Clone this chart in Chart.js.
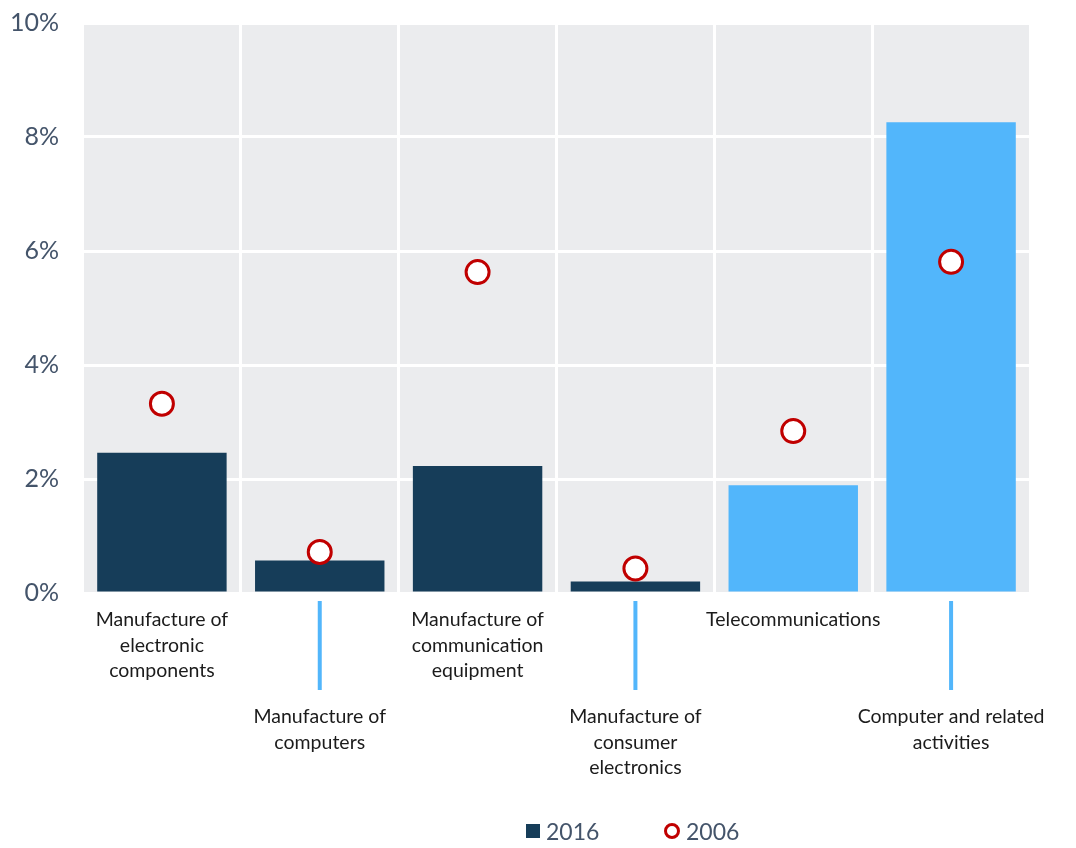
<!DOCTYPE html>
<html>
<head>
<meta charset="utf-8">
<script src="https://cdn.jsdelivr.net/npm/chart.js@4"></script>
<style>
  body { margin: 0; background: #fff; font-family: Lato, 'Open Sans', sans-serif; }
  #wrap { position: relative; width: 1076px; height: 848px; }
  .legend-item { position: absolute; top: 817px; display: flex; align-items: center; font-size: 23px; color: #44546A; }
  .swatch { width: 14px; height: 14px; background: #163D59; margin-right: 6px; }
  .ring { width: 10px; height: 10px; border: 3px solid #C00000; border-radius: 50%; background: #fff; margin-right: 6px; }
</style>
</head>
<body>
<div id="wrap">
  <canvas id="chart"></canvas>
  <div class="legend-item" style="left:526px"><span class="swatch"></span>2016</div>
  <div class="legend-item" style="left:664px"><span class="ring"></span>2006</div>
</div>
<script>
// Category labels (one entry per line)
const categories = [
  ['Manufacture of', 'electronic', 'components'],
  ['Manufacture of', 'computers'],
  ['Manufacture of', 'communication', 'equipment'],
  ['Manufacture of', 'consumer', 'electronics'],
  ['Telecommunications'],
  ['Computer and related', 'activities']
];
const values2016 = [2.46, 0.57, 2.23, 0.20, 1.89, 8.26];
const values2006 = [3.32, 0.72, 5.63, 0.43, 2.84, 5.81];
const barColors = ['#163D59', '#163D59', '#163D59', '#163D59', '#52B6FB', '#52B6FB'];
const yTicks = [0, 2, 4, 6, 8, 10];

// Grey plot background
const plotBackground = {
  id: 'plotBackground',
  beforeDraw(chart) {
    const { ctx, chartArea } = chart;
    ctx.save();
    ctx.fillStyle = '#EBECEE';
    ctx.fillRect(chartArea.left, chartArea.top, chartArea.right - chartArea.left, chartArea.bottom - chartArea.top);
    ctx.restore();
  }
};

// Staggered category labels with leader lines for the lower ones
const categoryLabels = {
  id: 'categoryLabels',
  afterDraw(chart) {
    const { ctx, chartArea } = chart;
    const x = chart.scales.x;
    ctx.save();
    ctx.font = '19.5px Lato';
    ctx.fillStyle = '#1b1b1b';
    ctx.textAlign = 'center';
    ctx.textBaseline = 'middle';
    categories.forEach((lines, i) => {
      const cx = x.getPixelForValue(i);
      let y0 = chartArea.bottom + 27;
      if (i % 2 === 1) {
        ctx.strokeStyle = '#52B6FB';
        ctx.lineWidth = 4;
        ctx.beginPath();
        ctx.moveTo(cx, chartArea.bottom + 8);
        ctx.lineTo(cx, chartArea.bottom + 97);
        ctx.stroke();
        y0 = chartArea.bottom + 124;
      }
      lines.forEach((t, j) => ctx.fillText(t, cx, y0 + j * 25.5));
    });
    ctx.restore();
  }
};

new Chart(document.getElementById('chart'), {
  type: 'bar',
  data: {
    labels: categories.map(c => c.join(' ')),
    datasets: [
      {
        type: 'line',
        label: '2006',
        data: values2006,
        showLine: false,
        pointRadius: 11.5,
        pointHoverRadius: 11.5,
        pointBorderWidth: 3,
        pointBackgroundColor: '#fff',
        pointBorderColor: '#C00000',
        order: 0
      },
      {
        label: '2016',
        data: values2016,
        backgroundColor: barColors,
        barPercentage: 0.82,
        categoryPercentage: 1,
        order: 1
      }
    ]
  },
  options: {
    responsive: true,
    maintainAspectRatio: false,
    animation: false,
    layout: { padding: { top: 23, right: 46, bottom: 255, left: 0 } },
    plugins: { legend: { display: false }, tooltip: { enabled: false } },
    scales: {
      x: {
        offset: true,
        grid: { offset: true, color: '#fff', lineWidth: 3, drawTicks: false },
        border: { display: false },
        ticks: { display: false }
      },
      y: {
        min: 0,
        max: 10,
        afterBuildTicks: s => { s.ticks = yTicks.map(v => ({ value: v })); },
        afterFit: s => { s.width = 83; s.paddingTop = 0; s.paddingBottom = 0; },
        grid: { color: '#fff', lineWidth: 3, drawTicks: false },
        border: { display: false },
        ticks: {
          padding: 24,
          color: '#44546A',
          font: { family: 'Lato', size: 25 },
          callback: v => v + '%'
        }
      }
    }
  },
  plugins: [plotBackground, categoryLabels]
});
</script>
</body>
</html>
